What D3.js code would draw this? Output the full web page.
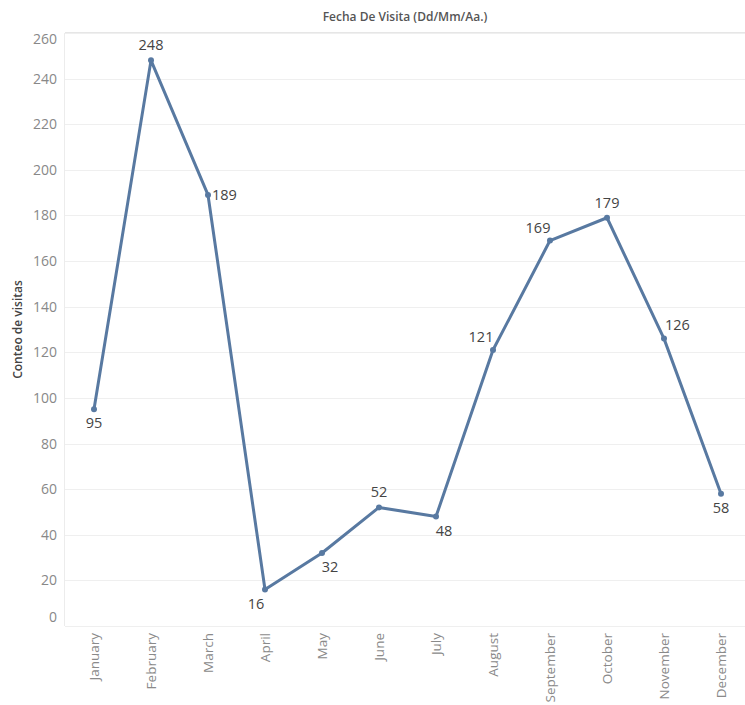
<!DOCTYPE html>
<html>
<head>
<meta charset="utf-8">
<script src="https://cdn.jsdelivr.net/npm/d3@7"></script>
<style>
  body { margin: 0; background: #fff; }
  text { font-family: "Open Sans", "Noto Sans", sans-serif; }
</style>
</head>
<body>
<svg id="chart"></svg>
<script>
// data
const months = ["January", "February", "March", "April", "May", "June",
  "July", "August", "September", "October", "November", "December"];
const visits = [95, 248, 189, 16, 32, 52, 48, 121, 169, 179, 126, 58];
const yTicks = [0, 20, 40, 60, 80, 100, 120, 140, 160, 180, 200, 220, 240, 260];
// where each value label sits relative to its point
const labelSide = ["below", "above", "right", "belowLeft", "belowRight", "above",
  "belowRight", "aboveLeft", "aboveLeft", "above", "aboveRight", "below"];

const W = 745, H = 705;
const margin = { top: 33, right: 0, bottom: 79, left: 65 };
const width = W - margin.left - margin.right;
const height = H - margin.top - margin.bottom;

const svg = d3.select("#chart").attr("width", W).attr("height", H);

// title
svg.append("text")
  .attr("x", 405).attr("y", 21)
  .attr("text-anchor", "middle")
  .attr("font-size", 12).attr("font-weight", 600)
  .attr("fill", "#555")
  .text("Fecha De Visita (Dd/Mm/Aa.)");
svg.append("line")
  .attr("x1", margin.left).attr("x2", W)
  .attr("y1", 32.5).attr("y2", 32.5)
  .attr("stroke", "#e6e6e6");

// y axis title
svg.append("text")
  .attr("transform", `translate(22,${margin.top + height / 2}) rotate(-90)`)
  .attr("text-anchor", "middle")
  .attr("font-size", 12).attr("font-weight", 600)
  .attr("fill", "#444")
  .text("Conteo de visitas");

const g = svg.append("g").attr("transform", `translate(${margin.left},${margin.top})`);

// bands of 57px, last one runs slightly past the window edge
const x = d3.scaleBand().domain(months).range([0.5, 684.5]);
const y = d3.scaleLinear().domain([0, 260]).range([height, 0]);

// gridlines
g.append("g")
  .selectAll("line").data(yTicks).join("line")
  .attr("x1", 0).attr("x2", width)
  .attr("y1", (d) => Math.round(y(d)) + 0.5).attr("y2", (d) => Math.round(y(d)) + 0.5)
  .attr("stroke", "#efefef");
g.append("line")
  .attr("x1", -0.5).attr("x2", -0.5).attr("y1", 0).attr("y2", height)
  .attr("stroke", "#ececec");

// y axis labels (edge labels nudged inside like Tableau)
const yaxis = d3.axisLeft(y).tickValues(yTicks).tickSize(0).tickPadding(8);
const g_yaxis = g.append("g").call(yaxis);
g_yaxis.select(".domain").remove();
g_yaxis.selectAll("text")
  .attr("font-size", 14).attr("fill", "#888")
  .attr("font-family", "Open Sans, sans-serif")
  .attr("dy", (d) => d === 0 ? "-0.3em" : d === 260 ? "0.75em" : "0.32em");

// x axis labels
const xaxis = d3.axisBottom(x).tickSize(0).tickPadding(0);
const g_xaxis = g.append("g").attr("transform", `translate(0,${height})`).call(xaxis);
g_xaxis.select(".domain").remove();
g_xaxis.selectAll("text")
  .attr("font-size", 13.5).attr("fill", "#8a8a8a")
  .attr("font-family", "Open Sans, sans-serif")
  .attr("transform", "rotate(-90)")
  .attr("text-anchor", "end")
  .attr("x", -7).attr("y", 0).attr("dy", "0.35em");

// line
const cx = (i) => x(months[i]) + x.bandwidth() / 2;
const line = d3.line().x((d, i) => cx(i)).y((d) => y(d));
g.append("path")
  .datum(visits)
  .attr("d", line)
  .attr("fill", "none")
  .attr("stroke", "#5879a1")
  .attr("stroke-width", 3)
  .attr("stroke-linejoin", "round");

g.selectAll("circle").data(visits).join("circle")
  .attr("cx", (d, i) => cx(i)).attr("cy", (d) => y(d))
  .attr("r", 3).attr("fill", "#5879a1");

// value labels
const offsets = {
  above: [0, -10, "middle"],
  below: [0, 19, "middle"],
  right: [4, 5, "start"],
  aboveRight: [1, -9, "start"],
  belowLeft: [-9, 19, "middle"],
  belowRight: [8, 19, "middle"],
  aboveLeft: [-12, -8, "middle"]
};
g.selectAll(".val").data(visits).join("text")
  .attr("class", "val")
  .attr("x", (d, i) => cx(i) + offsets[labelSide[i]][0])
  .attr("y", (d) => y(d))
  .attr("dy", (d, i) => offsets[labelSide[i]][1])
  .attr("text-anchor", (d, i) => offsets[labelSide[i]][2])
  .attr("font-size", 14.5).attr("fill", "#444")
  .text((d) => d);
</script>
</body>
</html>
